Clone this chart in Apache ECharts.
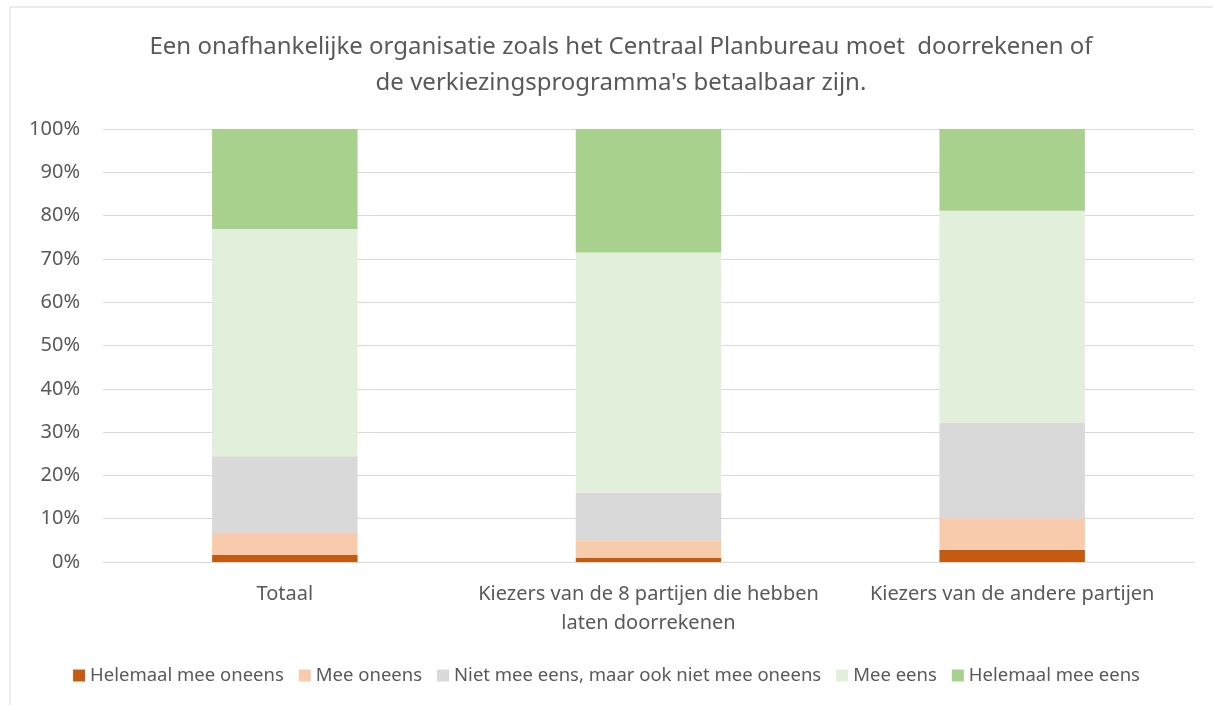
<!DOCTYPE html>
<html>
<head>
<meta charset="utf-8">
<script src="https://cdn.jsdelivr.net/npm/echarts@6/dist/echarts.min.js"></script>
<style>
    html, body { margin: 0; padding: 0; background: #fff; }
    #chart { width: 1213px; height: 705px; }
</style>
</head>
<body>
<div id="chart"></div>
<script>
    // categorieën en aandelen (%) per antwoord
    var categories = ['Totaal', 'Kiezers van de 8 partijen die hebben\nlaten doorrekenen', 'Kiezers van de andere partijen']
    var seriesNames = ['Helemaal mee oneens', 'Mee oneens', 'Niet mee eens, maar ook niet mee oneens', 'Mee eens', 'Helemaal mee eens']
    var helemaalOneens = [1.7, 0.9, 2.8]
    var meeOneens = [5.0, 4.1, 7.3]
    var neutraal = [17.7, 11.0, 22.1]
    var meeEens = [52.5, 55.5, 48.9]
    var helemaalEens = [23.1, 28.5, 18.9]
    var colors = ['#C55A11', '#F8CBAD', '#D9D9D9', '#E2EFDA', '#A9D18E']

    var font = 'Noto Sans'
    var textColor = '#595959'

    var chart = echarts.init(document.getElementById('chart'))
    var values = [helemaalOneens, meeOneens, neutraal, meeEens, helemaalEens]
    var series = []
    seriesNames.forEach(function (name, i) {
        series.push({
            name: name,
            type: 'bar',
            stack: 'totaal',
            barWidth: '40%',
            itemStyle: { color: colors[i] },
            data: values[i]
        })
    })

    var option = {
        animation: false,
        title: {
            text: 'Een onafhankelijke organisatie zoals het Centraal Planbureau moet  doorrekenen of\nde verkiezingsprogramma\'s betaalbaar zijn.',
            left: 616,
            top: 24,
            textAlign: 'center',
            textStyle: {
                fontFamily: font,
                fontSize: 24,
                fontWeight: 'normal',
                color: textColor,
                lineHeight: 36
            }
        },
        graphic: [
            { type: 'line', shape: { x1: 10, y1: 7, x2: 1213, y2: 7 }, style: { stroke: '#D9D9D9', lineWidth: 1 } },
            { type: 'line', shape: { x1: 10, y1: 7, x2: 10, y2: 705 }, style: { stroke: '#D9D9D9', lineWidth: 1 } }
        ],
        legend: {
            bottom: 15,
            left: 'center',
            itemWidth: 12,
            itemHeight: 12,
            itemGap: 15,
            icon: 'rect',
            textStyle: { fontFamily: font, fontSize: 18.5, color: textColor },
            data: seriesNames
        },
        grid: {
            left: 103,
            right: 19,
            top: 129,
            bottom: 143,
            containLabel: false
        },
        xAxis: {
            type: 'category',
            data: categories,
            axisLine: { show: true, lineStyle: { color: '#D9D9D9', width: 1 } },
            axisTick: { show: false },
            axisLabel: {
                interval: 0,
                fontFamily: font,
                fontSize: 20,
                color: textColor,
                margin: 18,
                lineHeight: 29
            }
        },
        yAxis: {
            type: 'value',
            min: 0,
            max: 100,
            interval: 10,
            axisLine: { show: false },
            axisTick: { show: false },
            splitLine: { lineStyle: { color: '#D9D9D9', width: 1 } },
            axisLabel: {
                fontFamily: font,
                fontSize: 20,
                color: textColor,
                margin: 23,
                formatter: '{value}%'
            }
        },
        series: series
    }
    chart.setOption(option)
</script>
</body>
</html>
